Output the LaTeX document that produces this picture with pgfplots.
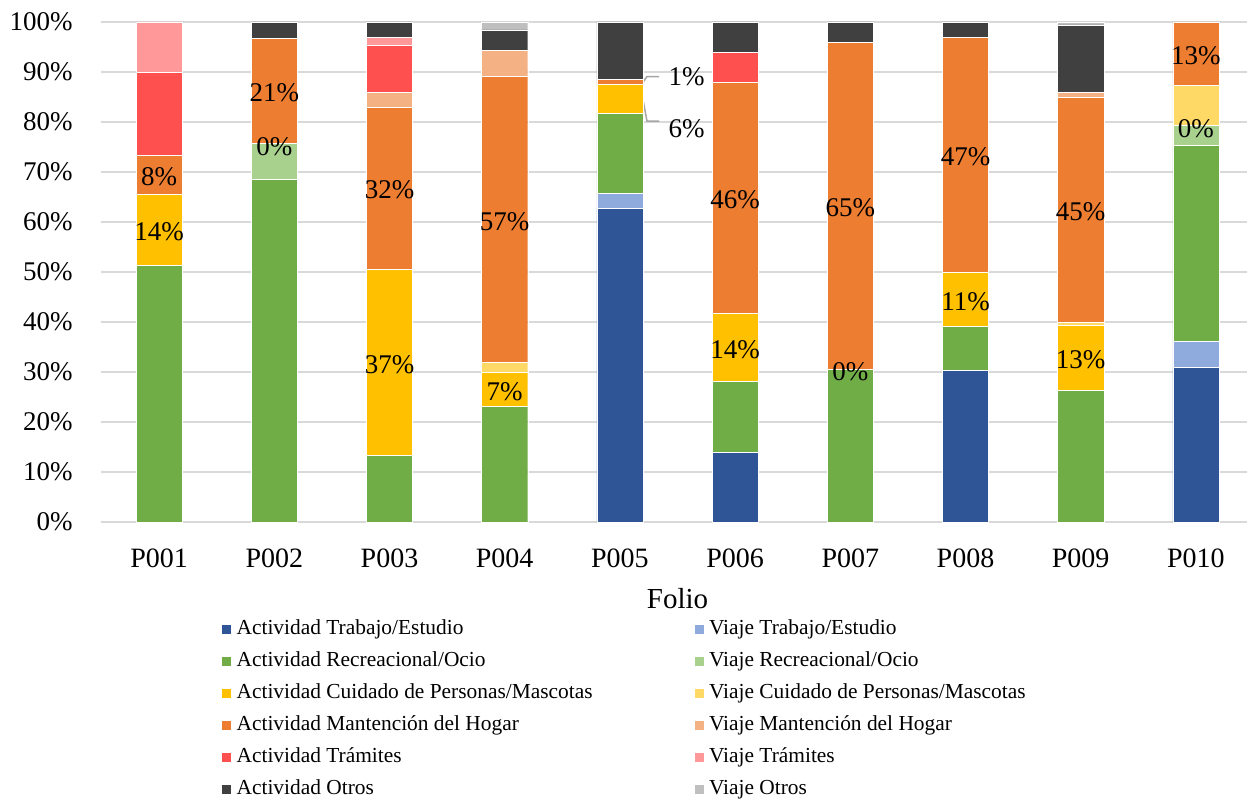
\documentclass[border=0pt]{standalone}
\usepackage{pgfplots}
\pgfplotsset{compat=1.18}
\usepackage{pgfplotstable}
\usepackage{fontspec}
\setmainfont{Liberation Serif}

\definecolor{cTW}{HTML}{2F5597}
\definecolor{cVTW}{HTML}{8FAADC}
\definecolor{cRec}{HTML}{70AD47}
\definecolor{cVRec}{HTML}{A9D18E}
\definecolor{cCu}{HTML}{FFC000}
\definecolor{cVCu}{HTML}{FFD966}
\definecolor{cMa}{HTML}{ED7D31}
\definecolor{cVMa}{HTML}{F4B183}
\definecolor{cTr}{HTML}{FF5050}
\definecolor{cVTr}{HTML}{FF9999}
\definecolor{cOt}{HTML}{404040}
\definecolor{cVOt}{HTML}{BFBFBF}
\definecolor{cGrid}{HTML}{D9D9D9}
\definecolor{cLead}{HTML}{A6A6A6}

% labels of zero-height segments are written after the axis (lcuid empty there)
\pgfplotstableread{
x tw vtw rec vrec cuid vcuid mant vmant tram vtram otros votros lcuid lmant
0 0 0 51.3 0 14.3 0 7.7 0 16.6 10.1 0 0 14\% 8\%
1 0 0 68.5 7.2 0 0 21.1 0 0 0 3.2 0 {} 21\%
2 0 0 13.3 0 37.3 0 32.4 2.9 9.5 1.6 3.0 0 37\% 32\%
3 0 0 23.1 0 6.9 2.0 57.1 5.3 0 0 4.0 1.6 7\% 57\%
4 62.7 3.0 16.1 0 5.8 0 0.9 0 0 0 11.5 0 {} {}
5 13.9 0 14.2 0 13.7 0 46.2 0 6.0 0 6.0 0 14\% 46\%
6 0 0 30.6 0 0 0 65.4 0 0 0 4.0 0 {} 65\%
7 30.3 0 8.8 0 10.8 0 47.1 0 0 0 3.0 0 11\% 47\%
8 0 0 26.4 0 12.9 0.7 44.9 1.0 0 0 13.5 0.6 13\% 45\%
9 30.9 5.2 39.2 4.0 0 8.0 12.7 0 0 0 0 0 {} 13\%
}\data

\begin{document}
\begin{tikzpicture}
\begin{axis}[
  at={(0,0)}, anchor=south west,
  scale only axis, width=576pt, height=250pt,
  ybar stacked, bar width=0.4,
  xmin=-0.5, xmax=9.5, ymin=0, ymax=100,
  xtick={0,1,...,9},
  xticklabels={P001,P002,P003,P004,P005,P006,P007,P008,P009,P010},
  ytick={0,10,...,100},
  yticklabel={\pgfmathprintnumber{\tick}\%},
  /pgf/number format/assume math mode=true,
  ymajorgrids, grid style={cGrid, line width=0.9pt},
  axis line style={draw=none},
  major tick length=0pt,
  tick label style={font=\fontsize{13.5}{16}\selectfont},
  yticklabel style={inner sep=0pt, xshift=-14.25pt},
  xticklabel style={inner sep=0pt, yshift=-13pt, anchor=north, font=\fontsize{14}{16}\selectfont},
  xlabel={Folio},
  xlabel style={at={(axis description cs:0.5,0)}, anchor=north, inner sep=0pt, yshift=-33pt, font=\fontsize{14.5}{17}\selectfont},
  legend columns=2,
  legend cell align=left,
  legend style={at={(axis description cs:0.4531,-0.194)}, anchor=north, draw=none, fill=none, inner sep=0pt,
    font=\fontsize{10.7}{12}\selectfont,
    nodes={inner sep=0pt, text height=7.3pt, text depth=2.2pt},
    row sep=6.5pt,
    /tikz/every odd column/.append style={column sep=2.5pt},
    /tikz/every even column/.append style={column sep=50.5pt}},
  legend image code/.code={\fill[#1] (0pt,-2.5pt) rectangle (5pt,2.5pt);},
  every axis plot/.append style={draw=white, line width=0.2pt},
  nlab/.style={nodes near coords, point meta=explicit symbolic,
    nodes near coords style={anchor=center, inner sep=0pt, yshift=-1pt, text=black, font=\fontsize{13.5}{16}\selectfont}},
]
\addplot[fill=cTW] table[x=x, y=tw]{\data};
\addlegendentry{Actividad Trabajo/Estudio}
\addplot[fill=cVTW] table[x=x, y=vtw]{\data};
\addlegendentry{Viaje Trabajo/Estudio}
\addplot[fill=cRec] table[x=x, y=rec]{\data};
\addlegendentry{Actividad Recreacional/Ocio}
\addplot[fill=cVRec] table[x=x, y=vrec]{\data};
\addlegendentry{Viaje Recreacional/Ocio}
\addplot[fill=cCu, nlab] table[x=x, y=cuid, meta=lcuid]{\data};
\addlegendentry{Actividad Cuidado de Personas/Mascotas}
\addplot[fill=cVCu] table[x=x, y=vcuid]{\data};
\addlegendentry{Viaje Cuidado de Personas/Mascotas}
\addplot[fill=cMa, nlab] table[x=x, y=mant, meta=lmant]{\data};
\addlegendentry{Actividad Mantención del Hogar}
\addplot[fill=cVMa] table[x=x, y=vmant]{\data};
\addlegendentry{Viaje Mantención del Hogar}
\addplot[fill=cTr] table[x=x, y=tram]{\data};
\addlegendentry{Actividad Trámites}
\addplot[fill=cVTr] table[x=x, y=vtram]{\data};
\addlegendentry{Viaje Trámites}
\addplot[fill=cOt] table[x=x, y=otros]{\data};
\addlegendentry{Actividad Otros}
\addplot[fill=cVOt] table[x=x, y=votros]{\data};
\addlegendentry{Viaje Otros}

\draw[cLead, line width=0.75pt] (axis cs:4.2,87.9) -- (axis cs:4.235,89.1) -- (axis cs:4.34,89.1);
\draw[cLead, line width=0.75pt] (axis cs:4.2,84.5) -- (axis cs:4.235,80.2) -- (axis cs:4.34,80.2);
\node[anchor=west, inner sep=0pt, font=\fontsize{13.5}{16}\selectfont] at (axis cs:4.42,89) {1\%};
\node[anchor=west, inner sep=0pt, font=\fontsize{13.5}{16}\selectfont] at (axis cs:4.42,78.7) {6\%};
\end{axis}
% labels of the zero-height "Actividad Cuidado" segments (P002, P007, P010),
% placed on the axis grid: x = (i+0.5)*57.6pt, y = value*2.5pt
\node[inner sep=0pt, text=black, font=\fontsize{13.5}{16}\selectfont] at (86.4pt,187.5pt) {0\%};
\node[inner sep=0pt, text=black, font=\fontsize{13.5}{16}\selectfont] at (374.4pt,75.25pt) {0\%};
\node[inner sep=0pt, text=black, font=\fontsize{13.5}{16}\selectfont] at (547.2pt,196.5pt) {0\%};
\pgfresetboundingbox
\path[use as bounding box] (-50.75pt,-138pt) rectangle (572.75pt,261pt);
\end{tikzpicture}
\end{document}
